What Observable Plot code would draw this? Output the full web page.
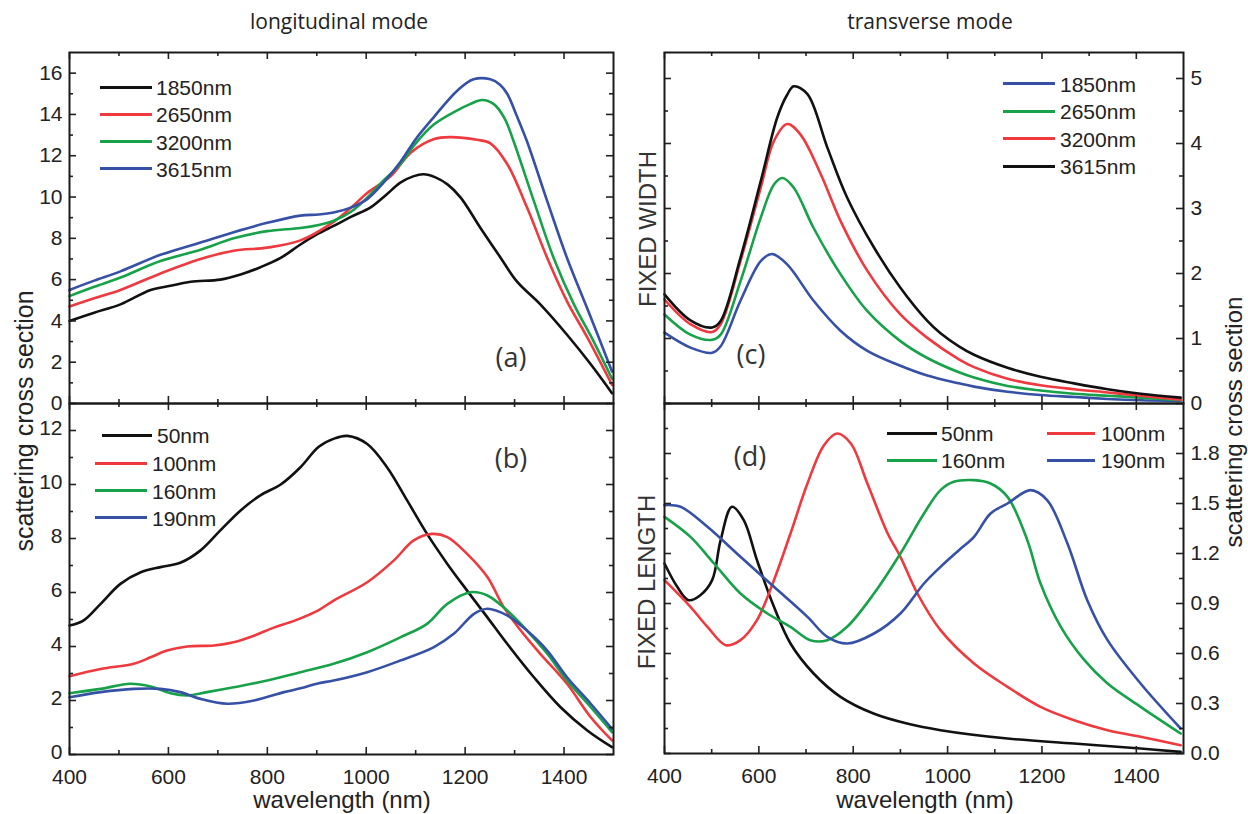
<!DOCTYPE html>
<html><head><meta charset="utf-8">
<script src="https://cdn.jsdelivr.net/npm/d3@7"></script>
<script src="https://cdn.jsdelivr.net/npm/@observablehq/plot@0.6"></script>
<style>
body{margin:0;background:#fff;}
#fig{position:relative;width:1248px;height:814px;overflow:hidden;font-family:"Liberation Sans",Arial,sans-serif;background:#fff;}
#fig svg{position:absolute;left:0;top:0;}
.t{position:absolute;white-space:nowrap;color:#222;line-height:1;}
.lg{position:absolute;height:3px;}
</style></head><body><div id="fig"></div><script>
// ---------------- data (wavelength nm, scattering cross section) ----------------
const nmMajor = [400, 600, 800, 1000, 1200, 1400];
const nmMinor = [500, 700, 900, 1100, 1300];

// (a) longitudinal mode, fixed width, lengths
const a1850 = [[400,4.0],[450,4.4],[503,4.8],[564,5.5],[604,5.7],[645,5.9],[705,6.0],[746,6.25],[786,6.6],[827,7.05],[867,7.7],[901,8.2],[934,8.6],[970,9.05],[1009,9.5],[1040,10.1],[1069,10.7],[1095,11.0],[1116,11.1],[1140,10.95],[1165,10.6],[1191,9.97],[1231,8.5],[1272,7.05],[1305,5.9],[1352,4.8],[1406,3.33],[1454,1.9],[1497,0.5]];
const a2650 = [[400,4.7],[450,5.1],[503,5.5],[584,6.3],[665,7.0],[732,7.4],[800,7.55],[867,7.9],[934,8.8],[970,9.5],[1002,10.2],[1049,11.0],[1090,12.15],[1136,12.8],[1170,12.9],[1224,12.77],[1251,12.6],[1285,11.6],[1325,9.5],[1366,7.05],[1406,4.95],[1447,3.2],[1497,0.9]];
const a3200 = [[400,5.2],[450,5.65],[503,6.1],[584,6.9],[665,7.45],[732,8.0],[800,8.35],[867,8.5],[904,8.65],[934,8.85],[970,9.3],[1002,9.97],[1035,10.8],[1069,11.6],[1100,12.6],[1136,13.5],[1184,14.2],[1210,14.5],[1234,14.7],[1258,14.5],[1280,13.8],[1298,12.7],[1339,9.8],[1379,7.05],[1420,4.8],[1460,3.0],[1497,1.2]];
const a3615 = [[400,5.5],[450,5.95],[503,6.4],[584,7.2],[665,7.8],[732,8.3],[800,8.75],[867,9.1],[904,9.15],[934,9.25],[970,9.5],[1002,9.9],[1035,10.7],[1069,11.7],[1100,12.8],[1136,13.85],[1184,15.15],[1217,15.7],[1251,15.7],[1270,15.45],[1285,15.0],[1305,13.9],[1325,12.7],[1366,9.8],[1406,7.05],[1447,4.6],[1497,1.55]];

// (b) longitudinal mode, fixed length, widths
const b50 = [[400,4.78],[428,4.96],[463,5.58],[503,6.32],[544,6.75],[584,6.94],[624,7.1],[665,7.56],[705,8.3],[746,9.04],[786,9.6],[827,10.0],[867,10.64],[904,11.4],[935,11.7],[962,11.8],[1002,11.5],[1042,10.64],[1083,9.4],[1123,8.17],[1164,7.06],[1204,6.07],[1245,5.08],[1285,4.1],[1339,2.86],[1393,1.75],[1447,0.89],[1497,0.27]];
const b100 = [[400,2.9],[463,3.17],[530,3.36],[564,3.6],[597,3.85],[638,4.0],[692,4.04],[732,4.16],[773,4.4],[813,4.7],[854,4.95],[904,5.35],[934,5.7],[1002,6.38],[1056,7.19],[1096,7.93],[1133,8.17],[1164,8.05],[1204,7.43],[1245,6.57],[1278,5.46],[1312,4.6],[1352,3.73],[1406,2.62],[1454,1.38],[1497,0.52]];
const b160 = [[400,2.27],[463,2.43],[523,2.62],[564,2.52],[604,2.27],[638,2.19],[678,2.31],[732,2.49],[800,2.74],[867,3.05],[934,3.36],[1002,3.79],[1069,4.34],[1123,4.84],[1164,5.58],[1211,6.01],[1245,5.89],[1285,5.33],[1325,4.59],[1366,3.73],[1406,2.74],[1454,1.75],[1497,0.83]];
const b190 = [[400,2.12],[463,2.31],[530,2.43],[584,2.43],[624,2.31],[665,2.06],[719,1.88],[773,2.0],[834,2.31],[867,2.45],[904,2.64],[934,2.74],[1002,3.05],[1069,3.48],[1136,3.97],[1177,4.47],[1218,5.21],[1245,5.4],[1285,5.15],[1325,4.59],[1366,3.85],[1406,2.86],[1454,1.88],[1497,0.95]];

// (c) transverse mode, fixed width, lengths
const c1850 = [[400,1.09],[455,0.86],[501,0.78],[519,0.88],[561,1.58],[604,2.19],[628,2.3],[660,2.14],[716,1.58],[773,1.12],[830,0.81],[900,0.58],[957,0.43],[1024,0.31],[1056,0.26],[1127,0.18],[1197,0.13],[1268,0.1],[1339,0.07],[1409,0.05],[1494,0.04]];
const c2650 = [[400,1.37],[455,1.06],[501,0.98],[519,1.06],[561,1.88],[604,2.86],[632,3.37],[650,3.47],[674,3.32],[716,2.7],[773,1.99],[830,1.42],[900,0.96],[957,0.7],[1024,0.48],[1056,0.4],[1127,0.27],[1197,0.2],[1268,0.15],[1339,0.12],[1409,0.09],[1494,0.05]];
const c3200 = [[400,1.6],[455,1.22],[501,1.1],[519,1.22],[561,2.19],[604,3.32],[632,4.04],[660,4.3],[688,4.14],[731,3.53],[773,2.81],[830,2.04],[900,1.37],[957,1.01],[1024,0.68],[1056,0.56],[1127,0.38],[1197,0.28],[1268,0.22],[1339,0.17],[1409,0.12],[1494,0.06]];
const c3615 = [[400,1.68],[455,1.28],[501,1.17],[519,1.27],[561,2.24],[604,3.42],[639,4.4],[660,4.75],[674,4.88],[703,4.76],[745,3.94],[787,3.17],[844,2.4],[900,1.78],[957,1.27],[985,1.08],[1024,0.88],[1056,0.75],[1127,0.55],[1197,0.41],[1268,0.31],[1339,0.22],[1409,0.15],[1494,0.09]];

// (d) transverse mode, fixed length, widths
const d50 = [[400,1.14],[427,1.0],[451,0.92],[476,0.95],[501,1.04],[519,1.28],[543,1.48],[568,1.4],[596,1.16],[632,0.88],[667,0.66],[716,0.48],[773,0.34],[843,0.24],[914,0.18],[985,0.14],[1127,0.09],[1268,0.06],[1409,0.03],[1494,0.01]];
const d100 = [[400,1.04],[455,0.88],[491,0.76],[530,0.65],[561,0.68],[596,0.8],[632,1.04],[667,1.32],[703,1.62],[738,1.85],[766,1.92],[795,1.86],[830,1.62],[873,1.32],[900,1.18],[936,0.96],[985,0.74],[1056,0.54],[1127,0.4],[1197,0.28],[1268,0.2],[1339,0.14],[1409,0.1],[1494,0.05]];
const d160 = [[400,1.42],[455,1.3],[505,1.14],[561,0.96],[618,0.84],[667,0.76],[709,0.68],[745,0.68],[787,0.76],[844,0.96],[900,1.2],[950,1.44],[985,1.58],[1013,1.63],[1056,1.64],[1091,1.62],[1127,1.54],[1169,1.28],[1197,1.02],[1240,0.76],[1290,0.56],[1339,0.42],[1409,0.28],[1494,0.12]];
const d190 = [[400,1.49],[434,1.48],[491,1.36],[561,1.18],[632,1.0],[703,0.82],[745,0.7],[787,0.66],[844,0.72],[900,0.84],[950,1.02],[985,1.12],[1024,1.22],[1056,1.3],[1091,1.44],[1127,1.5],[1176,1.58],[1211,1.52],[1254,1.26],[1296,0.92],[1339,0.68],[1409,0.42],[1494,0.15]];

const aTicks = [0,2,4,6,8,10,12,14,16], aMinor = [1,3,5,7,9,11,13,15];
const bTicks = [0,2,4,6,8,10,12], bMinor = [1,3,5,7,9,11];
const cTicks = [0,1,2,3,4,5], cMinor = [0.5,1.5,2.5,3.5,4.5];
const dTicks = [0,0.3,0.6,0.9,1.2,1.5,1.8], dMinor = [0.15,0.45,0.75,1.05,1.35,1.65,1.95];

const BLACK = "#111", RED = "#ee3a3f", GREEN = "#17a24a", BLUE = "#3650a6";

// ---------------- drawing ----------------
const W = 1248, H = 814;
const fig = document.getElementById("fig");
const FONT = '"Liberation Sans", Arial, sans-serif';

function panel(cfg) {
  const [x0, y0, x1, y1] = cfg.box;
  const iw = x1 - x0, ih = y1 - y0;
  const MAJ = 7, MIN = 4, ST = "#222", SW = 1.6;
  const marks = [];
  for (const s of cfg.series) {
    marks.push(Plot.line(s.values, {x: d => d[0], y: d => d[1], stroke: s.color, strokeWidth: 2.6, curve: "catmull-rom"}));
  }
  // inward ticks on all four sides
  marks.push(Plot.ruleX(nmMajor, {x: d => d, insetTop: ih - MAJ, stroke: ST, strokeWidth: SW}));
  marks.push(Plot.ruleX(nmMinor, {x: d => d, insetTop: ih - MIN, stroke: ST, strokeWidth: SW}));
  marks.push(Plot.ruleX(nmMajor, {x: d => d, insetBottom: ih - MAJ, stroke: ST, strokeWidth: SW}));
  marks.push(Plot.ruleX(nmMinor, {x: d => d, insetBottom: ih - MIN, stroke: ST, strokeWidth: SW}));
  marks.push(Plot.ruleY(cfg.yMajor, {y: d => d, insetRight: iw - MAJ, stroke: ST, strokeWidth: SW}));
  marks.push(Plot.ruleY(cfg.yMinor, {y: d => d, insetRight: iw - MIN, stroke: ST, strokeWidth: SW}));
  marks.push(Plot.ruleY(cfg.yMajor, {y: d => d, insetLeft: iw - MAJ, stroke: ST, strokeWidth: SW}));
  marks.push(Plot.ruleY(cfg.yMinor, {y: d => d, insetLeft: iw - MIN, stroke: ST, strokeWidth: SW}));
  if (cfg.xLabels) marks.push(Plot.axisX(nmMajor, {anchor: "bottom", tickSize: 0, tickPadding: 15, tickFormat: d => String(d), fill: "#222"}));
  marks.push(Plot.axisY(cfg.yMajor, {anchor: cfg.ySide, tickSize: 0, tickPadding: 7, dy: cfg.yDy || 0, tickFormat: cfg.yFmt, fill: "#222"}));
  marks.push(Plot.frame({stroke: "#1a1a1a", strokeWidth: 2}));
  const svg = Plot.plot({
    width: W, height: H,
    marginLeft: x0, marginRight: W - x1, marginTop: y0, marginBottom: H - y1,
    x: {domain: [400, 1500], axis: null},
    y: {domain: cfg.yDomain, axis: null},
    style: {fontFamily: FONT, fontSize: "21px", background: "transparent", overflow: "visible"},
    marks
  });
  svg.style.position = "absolute"; svg.style.left = "0px"; svg.style.top = "0px";
  svg.style.maxWidth = "none";
  fig.appendChild(svg);
}

panel({box: [69, 52, 613, 403], yDomain: [0, 17], yMajor: aTicks, yMinor: aMinor, ySide: "left", yFmt: d => String(d),
  series: [{values: a1850, color: BLACK}, {values: a2650, color: RED}, {values: a3200, color: GREEN}, {values: a3615, color: BLUE}]});
panel({box: [69, 403, 613, 754], yDomain: [0, 13], yMajor: bTicks, yMinor: bMinor, ySide: "left", yDy: -2, yFmt: d => String(d), xLabels: true,
  series: [{values: b50, color: BLACK}, {values: b100, color: RED}, {values: b160, color: GREEN}, {values: b190, color: BLUE}]});
panel({box: [664, 52, 1183, 403], yDomain: [0, 5.4], yMajor: cTicks, yMinor: cMinor, ySide: "right", yFmt: d => String(d),
  series: [{values: c1850, color: BLUE}, {values: c2650, color: GREEN}, {values: c3200, color: RED}, {values: c3615, color: BLACK}]});
panel({box: [664, 403, 1183, 753], yDomain: [0, 2.1], yMajor: dTicks, yMinor: dMinor, ySide: "right", yFmt: d3.format(".1f"), xLabels: true,
  series: [{values: d50, color: BLACK}, {values: d100, color: RED}, {values: d160, color: GREEN}, {values: d190, color: BLUE}]});

// ---------------- text ----------------
function txt(s, x, y, size, opts = {}) {
  const el = document.createElement("div");
  el.className = "t";
  el.textContent = s;
  el.style.left = x + "px"; el.style.top = y + "px";
  el.style.fontSize = size + "px";
  if (opts.font) el.style.fontFamily = opts.font;
  if (opts.color) el.style.color = opts.color;
  const align = opts.align || "center";
  const tx = align === "left" ? "0" : "-50%";
  el.style.transform = `translate(${tx},-50%)` + (opts.rotate ? ` rotate(${opts.rotate}deg)` : "");
  fig.appendChild(el);
}
const OS = '"Open Sans", "Liberation Sans", sans-serif';
txt("longitudinal mode", 339, 21, 21, {font: OS});
txt("transverse mode", 930, 21, 21, {font: OS});
txt("wavelength (nm)", 342, 800, 24);
txt("wavelength (nm)", 925, 800, 24);
txt("scattering cross section", 24, 421, 25, {rotate: -90});
txt("scattering cross section", 1234, 422, 24, {rotate: -90});
txt("FIXED WIDTH", 648, 229, 24, {rotate: -90, color: "#333"});
txt("FIXED LENGTH", 647, 582, 24, {rotate: -90, color: "#333"});
txt("(a)", 511, 356, 27, {font: OS, color: "#333"});
txt("(b)", 511, 457, 27, {font: OS, color: "#333"});
txt("(c)", 751, 353, 27, {font: OS, color: "#333"});
txt("(d)", 750, 455, 27, {font: OS, color: "#333"});

// ---------------- legends ----------------
function legendItem(label, color, lx1, lx2, tx, y) {
  const ln = document.createElement("div");
  ln.className = "lg";
  ln.style.left = lx1 + "px"; ln.style.width = (lx2 - lx1) + "px";
  ln.style.top = (y - 1.5) + "px"; ln.style.background = color;
  fig.appendChild(ln);
  txt(label, tx, y, 21, {align: "left"});
}
const aLabels = ["1850nm", "2650nm", "3200nm", "3615nm"];
const bLabels = ["50nm", "100nm", "160nm", "190nm"];
[[BLACK, 87], [RED, 114], [GREEN, 141.5], [BLUE, 168.5]].forEach(([c, y], i) => legendItem(aLabels[i], c, 100, 152, 156, y));
legendItem(bLabels[0], BLACK, 102, 152, 157, 435);
legendItem(bLabels[1], RED, 95, 147, 152, 463);
legendItem(bLabels[2], GREEN, 95, 147, 152, 490.5);
legendItem(bLabels[3], BLUE, 95, 147, 152, 517.5);
[[BLUE, 83.5], [GREEN, 111], [RED, 138.5], [BLACK, 166]].forEach(([c, y], i) => legendItem(aLabels[i], c, 1003, 1055, 1060, y));
legendItem(bLabels[0], BLACK, 887, 937, 941, 433);
legendItem(bLabels[2], GREEN, 887, 937, 941, 460);
legendItem(bLabels[1], RED, 1047, 1095, 1101, 433);
legendItem(bLabels[3], BLUE, 1047, 1095, 1101, 460);
</script></body></html>
